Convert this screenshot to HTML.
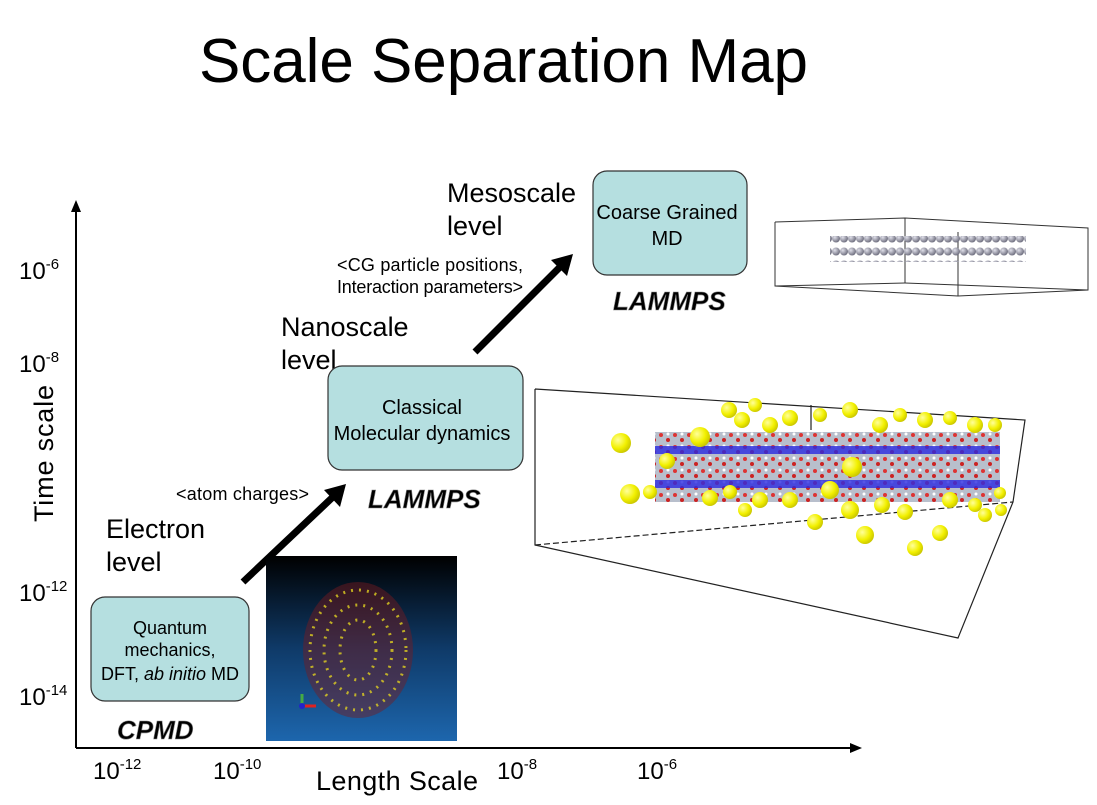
<!DOCTYPE html>
<html><head><meta charset="utf-8"><style>
body{margin:0;width:1097px;height:800px;background:#fff;overflow:hidden;font-family:"Liberation Sans",sans-serif;}
</style></head><body>
<svg width="1097" height="800" xmlns="http://www.w3.org/2000/svg" font-family="Liberation Sans, sans-serif">
<defs>
<linearGradient id="bg" x1="0" y1="0" x2="0" y2="1"><stop offset="0" stop-color="#000"/><stop offset="0.5" stop-color="#0f3a68"/><stop offset="1" stop-color="#1d66ad"/></linearGradient>
<radialGradient id="ys" cx="0.35" cy="0.35" r="0.7"><stop offset="0" stop-color="#ffff9a"/><stop offset="0.6" stop-color="#f2f000"/><stop offset="1" stop-color="#c8c400"/></radialGradient>
<radialGradient id="gs" cx="0.35" cy="0.35" r="0.7"><stop offset="0" stop-color="#e0e0ea"/><stop offset="1" stop-color="#6a6a7a"/></radialGradient>
<pattern id="slab" width="14" height="12" patternUnits="userSpaceOnUse"><rect width="14" height="12" fill="#b8bfcc"/><circle cx="3" cy="3" r="2" fill="#d33"/><circle cx="10" cy="8" r="2" fill="#c22"/><circle cx="10" cy="2" r="1.5" fill="#fff"/></pattern>
<pattern id="beads" width="8" height="13" patternUnits="userSpaceOnUse"><circle cx="4" cy="4.5" r="4" fill="url(#gs)"/></pattern>
</defs>
<text x="199" y="82" font-size="62" fill="#000" textLength="609">Scale Separation Map</text>
<!-- axes -->
<line x1="76" y1="210" x2="76" y2="748" stroke="#000" stroke-width="2"/>
<polygon points="71,212 76,200 81,212" fill="#000"/>
<line x1="76" y1="748" x2="852" y2="748" stroke="#000" stroke-width="2"/>
<polygon points="850,743 862,748 850,753" fill="#000"/>
<g font-size="24" fill="#000">
<text x="19" y="279">10<tspan dy="-10" font-size="15">-6</tspan></text>
<text x="19" y="372">10<tspan dy="-10" font-size="15">-8</tspan></text>
<text x="19" y="601">10<tspan dy="-10" font-size="15">-12</tspan></text>
<text x="19" y="705">10<tspan dy="-10" font-size="15">-14</tspan></text>
<text x="93" y="779">10<tspan dy="-10" font-size="15">-12</tspan></text>
<text x="213" y="779">10<tspan dy="-10" font-size="15">-10</tspan></text>
<text x="497" y="779">10<tspan dy="-10" font-size="15">-8</tspan></text>
<text x="637" y="779">10<tspan dy="-10" font-size="15">-6</tspan></text>
</g>
<g font-size="27" fill="#000">
<text x="316" y="790" textLength="162">Length Scale</text>
<text transform="translate(53,522) rotate(-90)" textLength="137">Time scale</text>
<text x="106" y="538">Electron</text>
<text x="106" y="571">level</text>
<text x="281" y="336">Nanoscale</text>
<text x="281" y="369">level</text>
<text x="447" y="202">Mesoscale</text>
<text x="447" y="235">level</text>
</g>
<g font-size="18" fill="#000">
<text x="176" y="500" textLength="133">&lt;atom charges&gt;</text>
<text x="337" y="271" textLength="186">&lt;CG particle positions,</text>
<text x="337" y="293" textLength="186">Interaction parameters&gt;</text>
</g>
<!-- boxes -->
<rect x="91" y="597" width="158" height="104" rx="14" fill="#b5dfe0" stroke="#333" stroke-width="1.2"/>
<g font-size="18" text-anchor="middle"><text x="170" y="634">Quantum</text><text x="170" y="656">mechanics,</text><text x="170" y="680">DFT, <tspan font-style="italic">ab initio</tspan> MD</text></g>
<rect x="328" y="366" width="195" height="104" rx="14" fill="#b5dfe0" stroke="#333" stroke-width="1.2"/>
<g font-size="20" text-anchor="middle"><text x="422" y="414">Classical</text><text x="422" y="440">Molecular dynamics</text></g>
<rect x="593" y="171" width="154" height="104" rx="14" fill="#b5dfe0" stroke="#333" stroke-width="1.2"/>
<g font-size="20" text-anchor="middle"><text x="667" y="219">Coarse Grained</text><text x="667" y="245">MD</text></g>
<g font-size="26" font-weight="bold" font-style="italic" fill="#000" stroke="#888" stroke-width="0.6">
<text x="117" y="739">CPMD</text>
<text x="368" y="508">LAMMPS</text>
<text x="613" y="310">LAMMPS</text>
</g>
<!-- arrows -->
<line x1="243" y1="582" x2="335" y2="495" stroke="#000" stroke-width="7"/>
<polygon points="346,484 324,490 340,507" fill="#000"/>
<line x1="475" y1="352" x2="562" y2="265" stroke="#000" stroke-width="7"/>
<polygon points="573,254 551,260 567,276" fill="#000"/>
<!-- CPMD image -->
<rect x="266" y="556" width="191" height="185" fill="url(#bg)"/>
<ellipse cx="358" cy="650" rx="55" ry="68" fill="#7a1a20" opacity="0.45"/>
<ellipse cx="358" cy="650" rx="48" ry="60" fill="none" stroke="#e0d020" stroke-width="3" stroke-dasharray="2 6" opacity="0.8"/>
<ellipse cx="358" cy="650" rx="34" ry="45" fill="none" stroke="#e0d020" stroke-width="3" stroke-dasharray="2 6" opacity="0.8"/>
<ellipse cx="358" cy="650" rx="18" ry="30" fill="none" stroke="#e0d020" stroke-width="3" stroke-dasharray="2 6" opacity="0.8"/>
<line x1="302" y1="706" x2="316" y2="706" stroke="#d22" stroke-width="3"/>
<line x1="302" y1="706" x2="302" y2="694" stroke="#4a4" stroke-width="3"/>
<circle cx="302" cy="706" r="3" fill="#22c"/>
<!-- CG box -->
<g fill="none" stroke="#333" stroke-width="1">
<polyline points="775,222 905,218 1088,228 1088,290 958,296 775,286 775,222"/>
<line x1="905" y1="218" x2="905" y2="283"/>
<line x1="958" y1="232" x2="958" y2="296"/>
<line x1="775" y1="286" x2="905" y2="283"/>
<line x1="905" y1="283" x2="1088" y2="290"/>
</g>
<rect x="830" y="236" width="196" height="26" fill="url(#beads)"/>
<!-- MD box -->
<g fill="none" stroke="#222" stroke-width="1.2">
<polyline points="535,389 1025,420 1013,502 958,638 535,545 535,389"/>
<line x1="535" y1="545" x2="1013" y2="502" stroke-dasharray="6 3"/>
<line x1="811" y1="405" x2="811" y2="430"/>
</g>
<rect x="655" y="432" width="345" height="70" fill="url(#slab)"/>
<rect x="655" y="446" width="345" height="8" fill="#2b2be0" opacity="0.8"/>
<rect x="655" y="480" width="345" height="8" fill="#2b2be0" opacity="0.8"/>
<g fill="url(#ys)">
<circle cx="621" cy="443" r="10"/><circle cx="630" cy="494" r="10"/><circle cx="650" cy="492" r="7"/><circle cx="700" cy="437" r="10"/><circle cx="667" cy="461" r="8"/><circle cx="729" cy="410" r="8"/><circle cx="755" cy="405" r="7"/><circle cx="742" cy="420" r="8"/><circle cx="770" cy="425" r="8"/><circle cx="790" cy="418" r="8"/><circle cx="820" cy="415" r="7"/><circle cx="850" cy="410" r="8"/><circle cx="880" cy="425" r="8"/><circle cx="900" cy="415" r="7"/><circle cx="925" cy="420" r="8"/><circle cx="950" cy="418" r="7"/><circle cx="975" cy="425" r="8"/><circle cx="995" cy="425" r="7"/><circle cx="852" cy="467" r="10"/><circle cx="830" cy="490" r="9"/><circle cx="745" cy="510" r="7"/><circle cx="760" cy="500" r="8"/><circle cx="815" cy="522" r="8"/><circle cx="850" cy="510" r="9"/><circle cx="865" cy="535" r="9"/><circle cx="882" cy="505" r="8"/><circle cx="905" cy="512" r="8"/><circle cx="915" cy="548" r="8"/><circle cx="940" cy="533" r="8"/><circle cx="950" cy="500" r="8"/><circle cx="975" cy="505" r="7"/><circle cx="985" cy="515" r="7"/><circle cx="1000" cy="493" r="6"/><circle cx="1001" cy="510" r="6"/><circle cx="790" cy="500" r="8"/><circle cx="710" cy="498" r="8"/><circle cx="730" cy="492" r="7"/></g>
</svg>
</body></html>
